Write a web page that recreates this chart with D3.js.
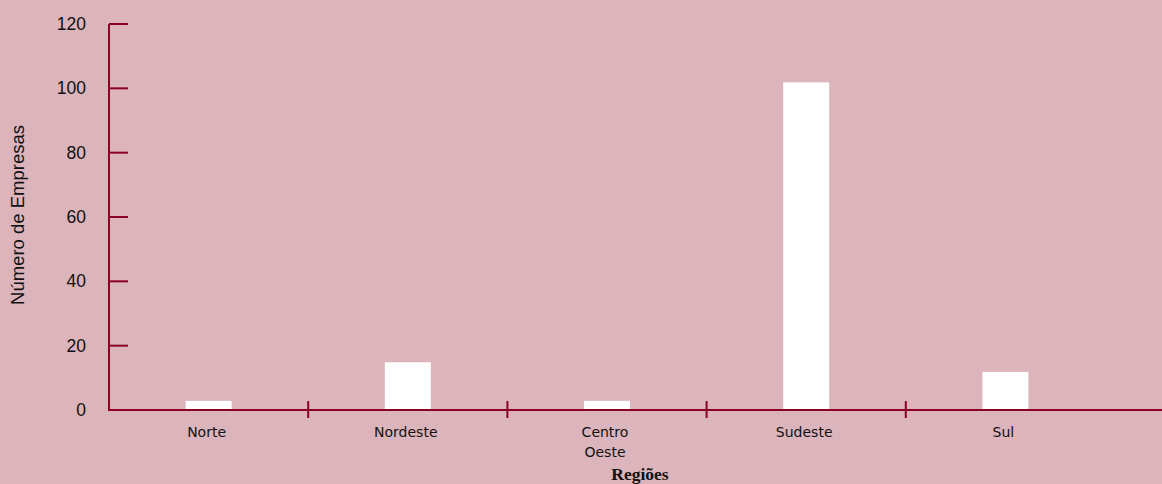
<html>
    <head>
        <meta charset='UTF-8'>
        <script src="https://d3js.org/d3.v7.min.js"></script>
        <style>
            body { margin: 0; background: #dbb4bc; }
            .tick-label { font-family: 'Liberation Sans', Arial, sans-serif; font-size: 17.5px; fill: #111; }
            .cat-label { font-family: 'DejaVu Sans', Tahoma, sans-serif; font-size: 14px; fill: #111; }
            .axis-line { stroke: #8c0026; stroke-width: 2px; }
        </style>
    </head>
    <body>
        <svg id="chart" width="1162" height="484"></svg>
        <script>
            // data
            const regioes = ['Norte', 'Nordeste', 'Centro Oeste', 'Sudeste', 'Sul'];
            const empresas = [3, 15, 3, 102, 12];
            const yTicks = [0, 20, 40, 60, 80, 100, 120];

            const svg = d3.select('#chart');
            const width = +svg.attr('width');
            const height = +svg.attr('height');

            svg.append('rect').attr('width', width).attr('height', height).attr('fill', '#dbb4bc');

            const x = d3.scaleBand().domain(regioes).range([109, 1105]);
            const y = d3.scaleLinear().domain([0, 120]).range([410, 24]);
            const barW = x.bandwidth() * 0.231;

            // bars
            svg.selectAll('rect.bar').data(regioes)
               .join('rect')
               .attr('class', 'bar')
               .attr('x', d => x(d) + (x.bandwidth() - barW) / 2)
               .attr('y', (d, i) => y(empresas[i]) + 0.5)
               .attr('width', barW)
               .attr('height', (d, i) => y(0) - y(empresas[i]) - 0.5)
               .attr('fill', 'white');

            // y axis
            svg.append('line').attr('class', 'axis-line')
               .attr('x1', 109).attr('x2', 109).attr('y1', y(120)).attr('y2', y(0));
            svg.selectAll('line.ytick').data(yTicks)
               .join('line')
               .attr('class', 'axis-line ytick')
               .attr('x1', 109).attr('x2', 128)
               .attr('y1', d => y(d)).attr('y2', d => y(d));
            svg.selectAll('text.ylab').data(yTicks)
               .join('text')
               .attr('class', 'tick-label ylab')
               .attr('x', 86)
               .attr('y', d => y(d))
               .attr('dy', '0.35em')
               .attr('text-anchor', 'end')
               .text(d => d);

            // x axis
            svg.append('line').attr('class', 'axis-line')
               .attr('x1', 108).attr('x2', width).attr('y1', y(0)).attr('y2', y(0));
            svg.selectAll('line.xtick').data(regioes.slice(1))
               .join('line')
               .attr('class', 'axis-line xtick')
               .attr('x1', d => x(d)).attr('x2', d => x(d))
               .attr('y1', y(0) - 9).attr('y2', y(0) + 8);

            const cats = svg.selectAll('text.cat').data(regioes)
               .join('text')
               .attr('class', 'cat-label cat')
               .attr('text-anchor', 'middle')
               .attr('y', 437);
            cats.each(function(d) {
                const words = d.split(' ');
                const cx = x(d) + x.bandwidth() / 2 - 2;
                words.forEach((w, i) => {
                    d3.select(this).append('tspan')
                      .attr('x', cx)
                      .attr('dy', i === 0 ? 0 : 20)
                      .text(w);
                });
            });

            // axis titles
            svg.append('text')
               .attr('x', 640).attr('y', 480)
               .attr('text-anchor', 'middle')
               .style('font-family', "'Liberation Serif', 'Times New Roman', serif")
               .style('font-weight', 'bold')
               .style('font-size', '17.5px')
               .attr('fill', '#111')
               .text('Regiões');

            svg.append('text')
               .attr('transform', 'translate(24,215) rotate(-90)')
               .attr('text-anchor', 'middle')
               .style('font-family', "'Liberation Sans', Arial, sans-serif")
               .style('font-size', '18.5px')
               .attr('fill', '#111')
               .text('Número de Empresas');
        </script>
    </body>
</html>
